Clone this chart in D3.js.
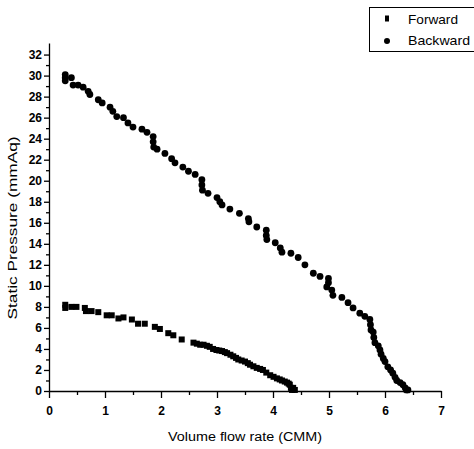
<!DOCTYPE html>
<html lang="en">
<head>
    <title>Static pressure vs flow rate</title>
    <style>
        html, body {margin: 0;padding: 0;background: #fff;}
        svg {font-family: "Liberation Sans", Arial, Helvetica, sans-serif;}
        .tick text {font-size: 12px;font-weight: bold;fill: #000;}
        .tick line, .domain {stroke: #000;stroke-width: 1.3;}
    </style>
</head>
<body>
<div id="chart"></div>
<script src="https://cdnjs.cloudflare.com/ajax/libs/d3/7.8.5/d3.min.js"></script>
<script>
  // data
  var forwardX = [0.29, 0.29, 0.40, 0.49, 0.64, 0.66, 0.76, 0.88, 1.03, 1.12, 1.24, 1.33, 1.48, 1.59, 1.71, 1.89, 1.98,
    2.13, 2.22, 2.37, 2.58, 2.64, 2.70, 2.76, 2.82, 2.87, 2.93, 2.99, 3.04, 3.09, 3.14, 3.18, 3.24, 3.29, 3.34, 3.38,
    3.44, 3.50, 3.55, 3.59, 3.65, 3.71, 3.77, 3.82, 3.88, 3.95, 4.01, 4.07, 4.12, 4.16, 4.21, 4.25, 4.28, 4.30, 4.32,
    4.36, 4.39, 4.34];
  var forwardY = [8.2, 7.9, 8.0, 8.0, 7.9, 7.6, 7.6, 7.5, 7.2, 7.2, 6.9, 7.0, 6.8, 6.4, 6.4, 6.1, 5.9,
    5.5, 5.3, 4.9, 4.6, 4.5, 4.4, 4.4, 4.3, 4.2, 4.0, 3.9, 3.85, 3.8, 3.7, 3.6, 3.45, 3.3, 3.15, 3.0,
    2.9, 2.8, 2.65, 2.5, 2.35, 2.2, 2.1, 2.0, 1.75, 1.5, 1.35, 1.2, 1.1, 1.0, 0.9, 0.8, 0.7, 0.6, 0.3,
    0.3, 0.1, 0.1];

  var backwardX = [0.29, 0.29, 0.29, 0.40, 0.43, 0.52, 0.61, 0.70, 0.73, 0.88, 0.95, 1.09, 1.14, 1.21, 1.33, 1.41, 1.50,
    1.66, 1.75, 1.86, 1.86, 1.87, 1.93, 2.07, 2.19, 2.25, 2.39, 2.49, 2.61, 2.73, 2.73, 2.74, 2.84, 3.00, 3.05, 3.09,
    3.23, 3.40, 3.56, 3.57, 3.71, 3.88, 3.88, 3.89, 4.04, 4.13, 4.16, 4.32, 4.45, 4.57, 4.72, 4.84, 4.99, 4.99, 4.96,
    5.05, 5.07, 5.23, 5.34, 5.43, 5.55, 5.64, 5.73, 5.74, 5.75, 5.79, 5.80, 5.82, 5.88, 5.91, 5.93, 5.97, 6.00, 6.05,
    6.10, 6.14, 6.18, 6.21, 6.27, 6.32, 6.36, 6.38, 6.41];
  var backwardY = [30.1, 29.8, 29.5, 29.8, 29.1, 29.1, 28.9, 28.5, 28.2, 27.7, 27.4, 27.0, 26.6, 26.1, 26.0, 25.5, 25.1,
    24.9, 24.6, 24.2, 23.7, 23.2, 23.0, 22.6, 22.1, 21.7, 21.3, 20.9, 20.6, 20.1, 19.6, 19.1, 18.8, 18.4, 18.0, 17.7,
    17.3, 16.9, 16.4, 16.1, 15.6, 15.3, 14.8, 14.4, 14.1, 13.6, 13.2, 13.1, 12.7, 12.0, 11.2, 10.9, 10.7, 10.3, 9.9,
    9.6, 9.1, 8.9, 8.4, 7.9, 7.4, 7.1, 6.8, 6.3, 5.8, 5.6, 5.1, 4.6, 4.3, 3.9, 3.5, 3.1, 2.8, 2.3,
    2.0, 1.7, 1.3, 1.0, 0.8, 0.6, 0.3, 0.1, 0.1];

  var xTicks = [0, 1, 2, 3, 4, 5, 6, 7];
  var yTicks = [0, 2, 4, 6, 8, 10, 12, 14, 16, 18, 20, 22, 24, 26, 28, 30, 32];
  var seriesNames = ['Forward', 'Backward'];

  var width = 474, height = 449;
  var svg = d3.select('#chart').append('svg').attr('width', width).attr('height', height);

  var x = d3.scaleLinear().domain([0, 7]).range([49, 441]);
  var y = d3.scaleLinear().domain([0, 33.1]).range([391, 43]);

  // minor ticks first
  svg.append('g').attr('transform', 'translate(0,391)')
    .call(d3.axisBottom(x).tickValues(d3.range(0.5, 7, 1)).tickSize(4).tickFormat(''))
    .call(function (g) { g.select('.domain').remove(); });
  svg.append('g').attr('transform', 'translate(49,0)')
    .call(d3.axisLeft(y).tickValues(d3.range(1, 33, 2)).tickSize(3).tickFormat(''))
    .call(function (g) { g.select('.domain').remove(); });

  svg.append('g').attr('transform', 'translate(0,391)')
    .call(d3.axisBottom(x).tickValues(xTicks).tickSize(7).tickSizeOuter(0).tickPadding(8)
      .tickFormat(d3.format('d')));
  svg.append('g').attr('transform', 'translate(49,0)')
    .call(d3.axisLeft(y).tickValues(yTicks).tickSize(5).tickSizeOuter(0).tickPadding(2));

  var fwd = forwardX.map(function (v, i) { return [v, forwardY[i]]; });
  var bwd = backwardX.map(function (v, i) { return [v, backwardY[i]]; });

  svg.append('g').selectAll('rect').data(fwd).enter().append('rect')
    .attr('x', function (d) { return x(d[0]) - 3; })
    .attr('y', function (d) { return y(d[1]) - 3; })
    .attr('width', 6).attr('height', 6).attr('fill', '#000');

  svg.append('g').selectAll('circle').data(bwd).enter().append('circle')
    .attr('cx', function (d) { return x(d[0]); })
    .attr('cy', function (d) { return y(d[1]); })
    .attr('r', 3.4).attr('fill', '#000');

  // axis titles
  svg.append('text').attr('x', 245).attr('y', 441).attr('text-anchor', 'middle')
    .attr('textLength', 154).attr('lengthAdjust', 'spacingAndGlyphs')
    .style('font-size', '12.5px').text('Volume flow rate (CMM)');
  svg.append('text').attr('transform', 'translate(17,228) rotate(-90)').attr('text-anchor', 'middle')
    .attr('textLength', 183).attr('lengthAdjust', 'spacingAndGlyphs')
    .style('font-size', '13px').text('Static Pressure (mmAq)');

  // legend
  var lg = svg.append('g');
  lg.append('rect').attr('x', 369.5).attr('y', 7.5).attr('width', 112).attr('height', 44)
    .attr('fill', 'none').attr('stroke', '#000').attr('stroke-width', 1);
  lg.append('rect').attr('x', 385).attr('y', 15.5).attr('width', 4).attr('height', 6).attr('fill', '#000');
  lg.append('circle').attr('cx', 387).attr('cy', 41).attr('r', 3).attr('fill', '#000');
  lg.selectAll('text').data(seriesNames).enter().append('text')
    .attr('x', 408).attr('y', function (d, i) { return 24 + i * 21; })
    .attr('textLength', function (d, i) { return i ? 62 : 50; }).attr('lengthAdjust', 'spacingAndGlyphs')
    .style('font-size', '13px').text(function (d) { return d; });
</script>
</body>
</html>
